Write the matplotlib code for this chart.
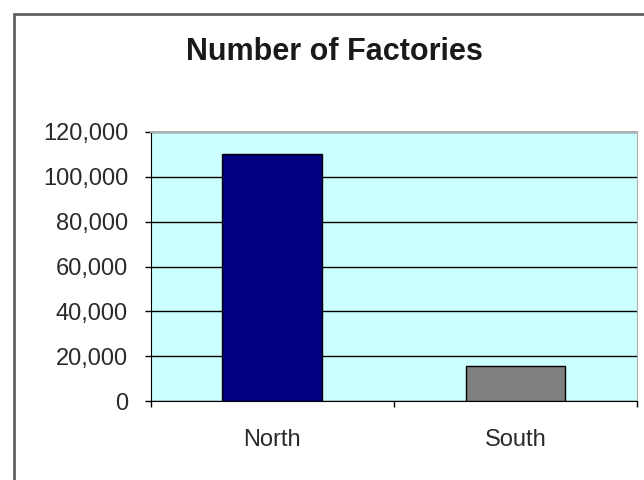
import matplotlib
matplotlib.use("Agg")
import matplotlib.pyplot as plt
from matplotlib.patches import Rectangle
from matplotlib.ticker import FuncFormatter

# data
regions = ['North', 'South']
factories = [110000, 15500]
bar_colors = ['#000080', '#808080']
y_ticks = [0, 20000, 40000, 60000, 80000, 100000, 120000]

plt.rcParams['font.family'] = ['Liberation Sans', 'DejaVu Sans']

fig = plt.figure(figsize=(6.44, 4.8), dpi=100)
fig.patch.set_facecolor('white')

# outer chart frame (cut off at right and bottom in the original)
fig.patches.append(Rectangle((14/644, -0.1), 1.2, (480-14)/480 + 0.1,
                             transform=fig.transFigure, fill=False,
                             edgecolor='#606060', linewidth=2))

fig.text(334/644, 1 - 52/480, 'Number of Factories', ha='center', va='center',
         fontsize=22, fontweight='bold', color='#1a1a1a')

ax = fig.add_axes([150.7/644, 79/480, (637-150.7)/644, 269/480])
ax.set_facecolor('#CCFFFF')

x = list(range(len(regions)))
ax.bar(x, factories, width=0.41, color=bar_colors, edgecolor='black',
       linewidth=1, zorder=3)

ax.set_xlim(-0.5, len(regions) - 0.5)
ax.set_ylim(0, 120000)
ax.set_yticks(y_ticks)
ax.yaxis.set_major_formatter(FuncFormatter(lambda v, p: '{:,.0f}'.format(v)))
ax.tick_params(axis='y', direction='out', length=4.3, width=1, pad=12,
               labelsize=17, labelcolor='#2a2a2a')

ax.set_xticks(x)
ax.set_xticklabels(regions)
ax.set_xticks([-0.5, 0.5, 1.5], minor=True)
ax.tick_params(axis='x', which='major', length=0, pad=20, labelsize=17,
               labelcolor='#2a2a2a')
ax.tick_params(axis='x', which='minor', direction='out', length=4.3, width=1)

ax.grid(axis='y', color='black', linewidth=1)
ax.set_axisbelow(True)

ax.spines['left'].set_color('black')
ax.spines['bottom'].set_color('black')
ax.spines['top'].set_color('#b0b0b0')
ax.spines['right'].set_color('#b0b0b0')
ax.spines['top'].set_linewidth(1.5)

fig.savefig('out.png', dpi=100)
